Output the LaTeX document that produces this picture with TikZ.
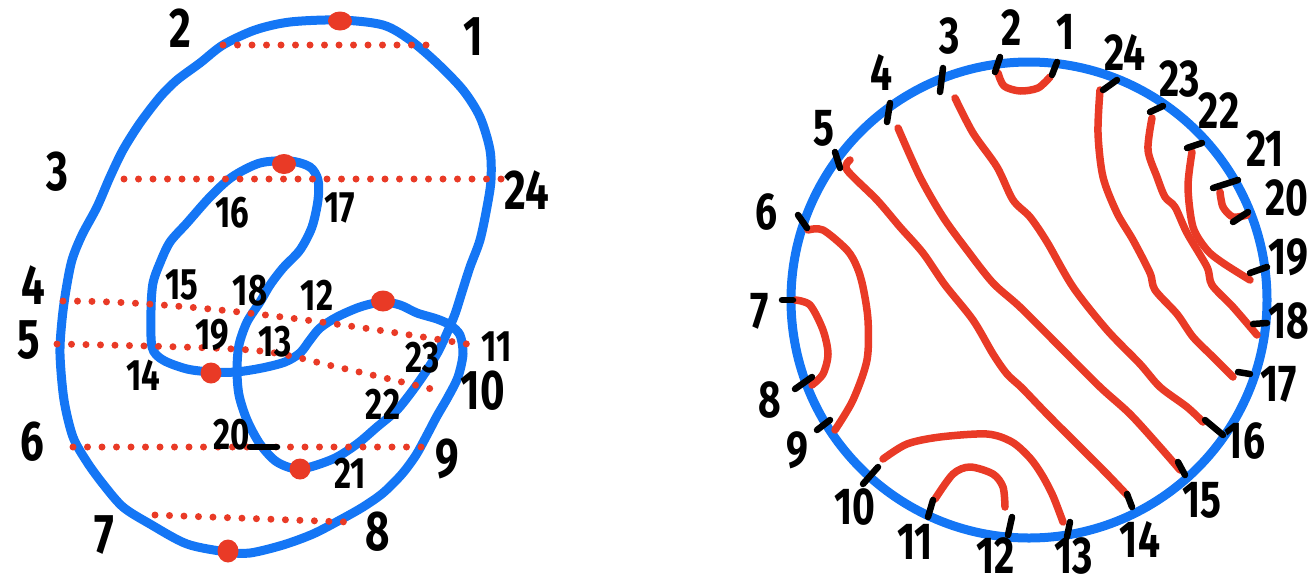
\documentclass[tikz,border=0pt]{standalone}
\usepackage{fontspec}
\newfontfamily\rukou{Fira Sans}[FakeStretch=0.75]
\definecolor{modra}{RGB}{20,118,245}
\definecolor{cervena}{RGB}{233,58,38}
\tikzset{
  krivka/.style={modra, line width=9pt, line join=round},
  tecky/.style={cervena, line width=7pt, line cap=round, dash pattern=on 0pt off 14.5pt},
  tetiva/.style={cervena, line width=7.5pt, line cap=round, line join=round},
  carka/.style={black, line width=6.5pt, line cap=round},
  velke/.style={font=\rukou\bfseries\fontsize{56}{60}\selectfont, inner sep=0pt},
  male/.style={font=\rukou\bfseries\fontsize{44}{48}\selectfont, inner sep=0pt},
  kruh/.style={font=\rukou\bfseries\fontsize{52}{56}\selectfont, inner sep=0pt},
}
\begin{document}
\begin{tikzpicture}[x=1pt,y=-1pt]
    \useasboundingbox (0,0) rectangle (1310,587);
    \clip (0,0) rectangle (1310,587);

    % Krivka vlevo
    \draw[krivka] plot[smooth cycle] coordinates {
        (340,20) (383,25) (410,40) (437,63) (463,90) (480,117) (490,150)
        (491,180) (487,207) (480,240) (470,267) (462,292) (455,314) (447,333)
        (438,352) (427,370) (413,390) (397,410) (377,427) (357,444) (333,459)
        (300,469) (277,462) (260,444) (247,420) (239,395) (237,370) (239,345)
        (247,322) (260,302) (270,285) (283,268) (300,250) (312,227) (318,200)
        (318,180) (310,167) (290,161) (260,163) (232,177) (210,197) (187,223)
        (170,242) (160,263) (153,283) (151,310) (152,347) (163,360) (187,369)
        (212,372) (236,372) (262,368) (285,362) (300,353) (310,340) (320,328)
        (337,317) (360,307) (382,302) (400,305) (417,313) (437,319) (450,325)
        (460,335) (463,354) (458,377) (448,397) (437,416) (427,435) (416,455)
        (402,474) (383,493) (363,507) (340,520) (313,534) (283,545) (250,553)
        (227,552) (187,544) (150,524) (123,507) (103,484) (87,462) (73,437)
        (64,400) (60,354) (62,320) (66,290) (72,260) (82,235) (97,207)
        (110,177) (123,150) (140,123) (160,97) (177,80) (200,63) (223,45)
        (255,30) (290,22)};

    % Teckovane rezy
    \coordinate (t2) at (223,45);   \coordinate (t1) at (427,45);
    \coordinate (t3) at (124,179);  \coordinate (t24) at (503,179);
    \coordinate (t4) at (63,301);   \coordinate (t11) at (467,344);
    \coordinate (t5) at (57,344);   \coordinate (t10) at (440,391);
    \coordinate (t6) at (73,447);   \coordinate (t9) at (430,447);
    \coordinate (t7) at (155,515);  \coordinate (t8) at (347,522);
    \draw[tecky] (t2) -- (t1);
    \draw[tecky] (t3) -- (t24);
    \draw[tecky] (t4) .. controls (190,301) and (350,325) .. (t11);
    \draw[tecky] plot[smooth] coordinates {(t5) (250,350) (337,367) (t10)};
    \draw[tecky] (t6) -- (t9);
    \draw[tecky] (t7) -- (t8);

    % Cervene body
    \fill[cervena] (340,21) ellipse [x radius=12pt, y radius=9.5pt];
    \fill[cervena] (284,164) ellipse [x radius=12pt, y radius=10pt];
    \fill[cervena] (383,301) ellipse [x radius=12pt, y radius=10.5pt];
    \fill[cervena] (211,373) circle [radius=10.5pt];
    \fill[cervena] (300,469) circle [radius=10.5pt];
    \fill[cervena] (228,551) ellipse [x radius=10.5pt, y radius=11.5pt];
    \draw[carka] (250,447) -- (277,447);

    % Cisla vlevo
    \node[velke] (k1) at (473,37) {1};
    \node[velke] (k2) at (180,28) {2};
    \node[velke] (k3) at (57,172) {3};
    \node[velke] (k4) at (33,285) {4};
    \node[velke] (k5) at (29,340) {5};
    \node[velke] (k6) at (32,442) {6};
    \node[velke] (k7) at (104,535) {7};
    \node[velke] (k8) at (378,532) {8};
    \node[velke] (k9) at (447,459) {9};
    \node[velke] (k10) at (483,391) {10};
    \node[male] (k11) at (497,347) {11};
    \node[male] (k12) at (317,295) {12};
    \node[male] (k13) at (275,342) {13};
    \node[male] (k14) at (143,375) {14};
    \node[male] (k15) at (182,285) {15};
    \node[male] (k16) at (232,213) {16};
    \node[male] (k17) at (340,208) {17};
    \node[male] (k18) at (250,291) {18};
    \node[male] (k19) at (212,335) {19};
    \node[male] (k20) at (232,435) {20};
    \node[male] (k21) at (350,473) {21};
    \node[male] (k22) at (383,404) {22};
    \node[male] (k23) at (423,358) {23};
    \node[velke] (k24) at (527,190) {24};

    % Kruh vpravo
    \draw[krivka] (1029,300) circle [radius=238pt];

    % Tetivy
    \draw[tetiva] plot[smooth] coordinates {(998,73) (1004,86) (1020,91) (1038,88) (1050,77)};
    \draw[tetiva] plot[smooth] coordinates {(955,98) (973,133) (997,167) (1013,200) (1030,217)
        (1047,242) (1073,287) (1107,330) (1140,364) (1160,387) (1187,407) (1203,422)};
    \draw[tetiva] plot[smooth] coordinates {(898,128) (920,177) (943,217) (967,250) (993,283)
        (1020,307) (1060,347) (1100,387) (1130,414) (1160,447) (1180,470)};
    \draw[tetiva] plot[smooth] coordinates {(850,160) (847,170) (877,200) (900,227) (923,253)
        (945,285) (973,320) (993,354) (1007,374) (1022,388) (1047,414) (1080,447) (1107,474) (1127,495)};
    \draw[tetiva] plot[smooth] coordinates {(808,230) (823,230) (847,250) (857,267) (863,287)
        (868,320) (867,360) (853,400) (835,430)};
    \draw[tetiva] plot[smooth] coordinates {(795,300) (810,305) (823,330) (828,354) (823,374) (812,385)};
    \draw[tetiva] plot[smooth] coordinates {(883,459) (907,444) (940,437) (987,434) (1012,442)
        (1030,458) (1042,475) (1053,496) (1063,522)};
    \draw[tetiva] plot[smooth] coordinates {(935,499) (953,474) (970,467) (993,474) (1003,487) (1005,507)};
    \draw[tetiva] plot[smooth] coordinates {(1100,90) (1098,133) (1103,177) (1117,213) (1133,240)
        (1150,273) (1155,290) (1177,314) (1193,337) (1213,357) (1233,377)};
    \draw[tetiva] plot[smooth] coordinates {(1152,118) (1148,150) (1157,177) (1165,197) (1175,207)
        (1187,233) (1207,267) (1212,285) (1233,307) (1257,335)};
    \draw[tetiva] plot[smooth] coordinates {(1192,152) (1188,187) (1193,227) (1207,250) (1223,263) (1250,280)};
    \draw[tetiva] plot[smooth] coordinates {(1220,192) (1223,207) (1233,217) (1247,215)};

    % Znacky na kruhu
    \draw[carka] (1052,75) -- (1057,62);
    \draw[carka] (995,72) -- (1000,57);
    \draw[carka] (940,92) -- (943,68);
    \draw[carka] (887,122) -- (890,103);
    \draw[carka] (840,168) -- (835,152);
    \draw[carka] (807,228) -- (798,215);
    \draw[carka] (782,300) -- (793,300);
    \draw[carka] (795,389) -- (812,377);
    \draw[carka] (817,430) -- (830,420);
    \draw[carka] (863,484) -- (878,467);
    \draw[carka] (928,517) -- (933,500);
    \draw[carka] (1008,535) -- (1012,517);
    \draw[carka] (1067,537) -- (1070,522);
    \draw[carka] (1127,494) -- (1132,507);
    \draw[carka] (1178,462) -- (1185,475);
    \draw[carka] (1205,420) -- (1223,435);
    \draw[carka] (1238,372) -- (1250,374);
    \draw[carka] (1253,324) -- (1267,323);
    \draw[carka] (1250,273) -- (1267,267);
    \draw[carka] (1233,222) -- (1248,212);
    \draw[carka] (1213,188) -- (1238,180);
    \draw[carka] (1187,148) -- (1202,143);
    \draw[carka] (1150,112) -- (1163,106);
    \draw[carka] (1103,90) -- (1117,80);

    % Cisla na kruhu
    \node[kruh] (c1) at (1066,32) {1};
    \node[kruh] (c2) at (1012,28) {2};
    \node[kruh] (c3) at (950,36) {3};
    \node[kruh] (c4) at (882,72) {4};
    \node[kruh] (c5) at (824,128) {5};
    \node[kruh] (c6) at (766,212) {6};
    \node[kruh] (c7) at (760,311) {7};
    \node[kruh] (c8) at (770,400) {8};
    \node[kruh] (c9) at (797,450) {9};
    \node[kruh] (c10) at (855,507) {10};
    \node[kruh] (c11) at (915,542) {11};
    \node[kruh] (c12) at (996,556) {12};
    \node[kruh] (c13) at (1074,556) {13};
    \node[kruh] (c14) at (1140,539) {14};
    \node[kruh] (c15) at (1202,500) {15};
    \node[kruh] (c16) at (1245,441) {16};
    \node[kruh] (c17) at (1279,384) {17};
    \node[kruh] (c18) at (1289,321) {18};
    \node[kruh] (c19) at (1288,257) {19};
    \node[kruh] (c20) at (1287,198) {20};
    \node[kruh] (c21) at (1265,149) {21};
    \node[kruh] (c22) at (1219,111) {22};
    \node[kruh] (c23) at (1180,79) {23};
    \node[kruh] (c24) at (1125,52) {24};
\end{tikzpicture}
\end{document}
